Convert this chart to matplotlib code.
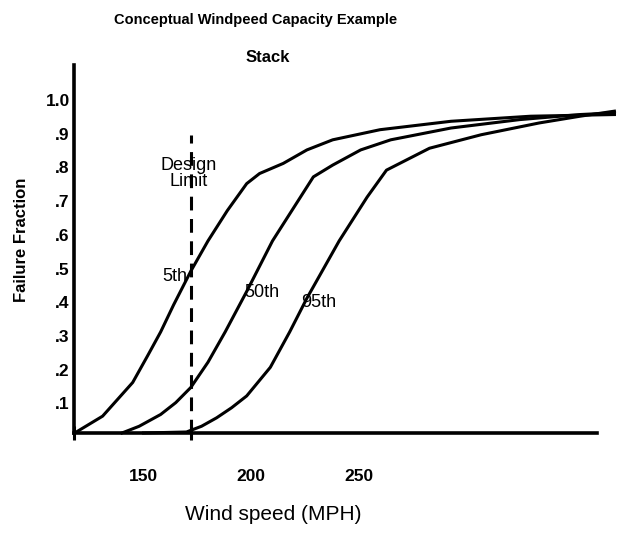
import numpy as np
import matplotlib
matplotlib.use("Agg")
import matplotlib.pyplot as plt
from matplotlib.transforms import ScaledTranslation

plt.rcParams['font.family'] = ['Liberation Sans', 'DejaVu Sans']

# data
p5_mph = [118, 131, 145, 152, 158, 164, 172, 180, 189, 198, 204, 215, 226, 238, 260, 293, 330, 369]
p5_frac = [0.0, 0.05, 0.15, 0.23, 0.30, 0.38, 0.48, 0.57, 0.66, 0.74, 0.77, 0.80, 0.84, 0.87, 0.90, 0.925, 0.94, 0.945]

p50_mph = [140, 148, 158, 165, 172, 180, 188, 198, 210, 220, 229, 238, 251, 265, 293, 325, 353, 369]
p50_frac = [0.0, 0.02, 0.055, 0.09, 0.135, 0.21, 0.30, 0.42, 0.57, 0.67, 0.76, 0.795, 0.84, 0.87, 0.905, 0.93, 0.945, 0.95]

p95_mph = [150, 170, 177, 184, 191, 198, 209, 218, 226, 241, 254, 263, 283, 307, 334, 353, 369]
p95_frac = [0.0, 0.003, 0.02, 0.045, 0.075, 0.11, 0.195, 0.30, 0.40, 0.57, 0.70, 0.78, 0.845, 0.885, 0.92, 0.94, 0.955]

design_limit = 172
x_labels = [150, 200, 250]
y_ticks = [0.1, 0.2, 0.3, 0.4, 0.5, 0.6, 0.7, 0.8, 0.9, 1.0]
y_labels = ['.1', '.2', '.3', '.4', '.5', '.6', '.7', '.8', '.9', '1.0']

fig = plt.figure(figsize=(6.18, 5.33), dpi=100)
ax = fig.add_axes([74 / 618, 100 / 533, 540 / 618, 368 / 533])

lw = 2.2
ax.plot(p5_mph, p5_frac, color='black', lw=lw, clip_on=False)
ax.plot(p50_mph, p50_frac, color='black', lw=lw, clip_on=False)
ax.plot(p95_mph, p95_frac, color='black', lw=lw, clip_on=False)

# design limit
ax.plot([design_limit, design_limit], [0, 0.884], color='black', lw=2.2,
        dashes=(4.5, 2.8), clip_on=False)
ax.text(design_limit - 1, 0.77, 'Design\nLimit', ha='center', va='center',
        fontsize=13, linespacing=0.95)

ax.text(164.5, 0.463, '5th', ha='center', va='center', fontsize=13)
ax.text(205, 0.418, '50th', ha='center', va='center', fontsize=13)
ax.text(231.5, 0.386, '95th', ha='center', va='center', fontsize=13)

ax.set_xlim(117.7, 368.8)
ax.set_ylim(0, 1.092)

for s in ['top', 'right']:
    ax.spines[s].set_visible(False)
ax.spines['left'].set_linewidth(2.6)
ax.spines['bottom'].set_linewidth(2.6)
ax.spines['bottom'].set_bounds(117.7, 361)

ax.set_xticks(x_labels)
ax.set_xticklabels([str(v) for v in x_labels], fontsize=12.5, fontweight='bold')
ax.set_xticks([117.7, design_limit], minor=True)
ax.tick_params(axis='x', which='major', length=0, pad=26)
ax.tick_params(axis='x', which='minor', length=10, width=2.2, direction='inout')

ax.set_yticks(y_ticks)
ax.set_yticklabels(y_labels, fontsize=12.5, fontweight='bold')
ax.tick_params(axis='y', length=0, pad=3)
off = ScaledTranslation(0, -4 / 100, fig.dpi_scale_trans)
for lab in ax.get_yticklabels():
    lab.set_transform(lab.get_transform() + off)

fig.text(256 / 618, 1 - 20 / 533, 'Conceptual Windpeed Capacity Example',
         ha='center', va='center', fontsize=10.5, fontweight='bold')
fig.text(268 / 618, 1 - 58 / 533, 'Stack', ha='center', va='center',
         fontsize=12, fontweight='bold')
fig.text(22 / 618, 1 - 240 / 533, 'Failure Fraction', rotation=90,
         ha='center', va='center', fontsize=12, fontweight='bold')
fig.text(273 / 618, 1 - 514 / 533, 'Wind speed (MPH)', ha='center',
         va='center', fontsize=15)

fig.savefig('out.png', dpi=100)
